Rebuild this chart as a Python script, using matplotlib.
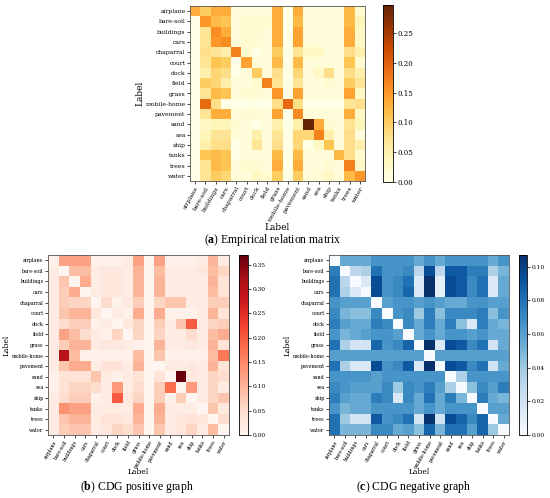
import matplotlib
matplotlib.use("Agg")
import matplotlib.pyplot as plt
import numpy as np

labels = ["airplane", "bare-soil", "buildings", "cars", "chaparral", "court", "dock",
          "field", "grass", "mobile-home", "pavement", "sand", "sea", "ship", "tanks",
          "trees", "water"]

empirical = [
    [0.13, 0.10, 0.13, 0.13, 0.01, 0.01, 0.01, 0.01, 0.13, 0.00, 0.13, 0.01, 0.01, 0.01, 0.01, 0.12, 0.02],
    [0.00, 0.15, 0.12, 0.11, 0.01, 0.02, 0.02, 0.02, 0.13, 0.00, 0.12, 0.01, 0.01, 0.01, 0.01, 0.12, 0.04],
    [0.00, 0.07, 0.16, 0.13, 0.01, 0.02, 0.02, 0.01, 0.13, 0.00, 0.14, 0.01, 0.01, 0.01, 0.01, 0.13, 0.03],
    [0.00, 0.07, 0.15, 0.16, 0.01, 0.02, 0.02, 0.01, 0.13, 0.00, 0.14, 0.01, 0.01, 0.01, 0.01, 0.13, 0.03],
    [0.00, 0.08, 0.07, 0.05, 0.17, 0.02, 0.00, 0.01, 0.10, 0.00, 0.07, 0.03, 0.03, 0.01, 0.01, 0.08, 0.05],
    [0.00, 0.07, 0.11, 0.10, 0.00, 0.14, 0.01, 0.01, 0.12, 0.00, 0.12, 0.01, 0.01, 0.01, 0.01, 0.11, 0.02],
    [0.00, 0.05, 0.09, 0.08, 0.00, 0.01, 0.10, 0.01, 0.08, 0.00, 0.09, 0.01, 0.03, 0.08, 0.01, 0.08, 0.05],
    [0.00, 0.10, 0.09, 0.05, 0.01, 0.01, 0.02, 0.17, 0.07, 0.00, 0.07, 0.01, 0.01, 0.02, 0.01, 0.10, 0.07],
    [0.00, 0.07, 0.12, 0.11, 0.01, 0.02, 0.02, 0.01, 0.15, 0.00, 0.14, 0.01, 0.01, 0.01, 0.01, 0.14, 0.03],
    [0.00, 0.19, 0.08, 0.00, 0.00, 0.00, 0.00, 0.00, 0.08, 0.19, 0.08, 0.00, 0.00, 0.00, 0.00, 0.07, 0.08],
    [0.00, 0.07, 0.13, 0.13, 0.01, 0.02, 0.02, 0.01, 0.14, 0.00, 0.16, 0.01, 0.01, 0.01, 0.01, 0.13, 0.03],
    [0.00, 0.03, 0.04, 0.04, 0.02, 0.01, 0.00, 0.01, 0.05, 0.00, 0.05, 0.297, 0.13, 0.02, 0.01, 0.07, 0.04],
    [0.00, 0.04, 0.07, 0.07, 0.01, 0.01, 0.05, 0.01, 0.07, 0.00, 0.09, 0.09, 0.17, 0.05, 0.01, 0.08, 0.01],
    [0.00, 0.05, 0.08, 0.08, 0.00, 0.01, 0.07, 0.01, 0.08, 0.00, 0.09, 0.00, 0.03, 0.11, 0.01, 0.08, 0.05],
    [0.00, 0.11, 0.12, 0.11, 0.00, 0.01, 0.01, 0.01, 0.12, 0.00, 0.12, 0.01, 0.01, 0.01, 0.12, 0.08, 0.02],
    [0.00, 0.07, 0.12, 0.11, 0.01, 0.02, 0.02, 0.01, 0.13, 0.00, 0.13, 0.01, 0.01, 0.02, 0.01, 0.17, 0.03],
    [0.00, 0.07, 0.10, 0.09, 0.01, 0.01, 0.03, 0.02, 0.10, 0.00, 0.10, 0.01, 0.02, 0.03, 0.01, 0.12, 0.15],
]

positive = [
    [0.01, 0.12, 0.12, 0.12, 0.01, 0.01, 0.01, 0.02, 0.12, 0.00, 0.12, 0.01, 0.01, 0.01, 0.02, 0.10, 0.02],
    [0.02, 0.00, 0.09, 0.09, 0.02, 0.03, 0.03, 0.02, 0.10, 0.00, 0.09, 0.02, 0.02, 0.02, 0.03, 0.09, 0.06],
    [0.02, 0.08, 0.00, 0.11, 0.02, 0.03, 0.03, 0.02, 0.10, 0.00, 0.10, 0.02, 0.02, 0.02, 0.02, 0.10, 0.04],
    [0.02, 0.07, 0.11, 0.00, 0.02, 0.03, 0.03, 0.02, 0.10, 0.00, 0.10, 0.02, 0.02, 0.02, 0.02, 0.09, 0.04],
    [0.02, 0.07, 0.06, 0.06, 0.00, 0.05, 0.01, 0.03, 0.07, 0.00, 0.06, 0.08, 0.08, 0.02, 0.02, 0.07, 0.07],
    [0.02, 0.08, 0.10, 0.10, 0.03, 0.00, 0.02, 0.01, 0.11, 0.00, 0.11, 0.01, 0.01, 0.01, 0.02, 0.10, 0.04],
    [0.02, 0.05, 0.07, 0.07, 0.01, 0.02, 0.00, 0.03, 0.06, 0.00, 0.07, 0.02, 0.08, 0.20, 0.02, 0.06, 0.07],
    [0.02, 0.12, 0.09, 0.05, 0.02, 0.01, 0.06, 0.00, 0.06, 0.00, 0.06, 0.02, 0.02, 0.05, 0.02, 0.09, 0.11],
    [0.02, 0.07, 0.10, 0.10, 0.02, 0.03, 0.03, 0.02, 0.01, 0.00, 0.10, 0.02, 0.02, 0.03, 0.02, 0.10, 0.04],
    [0.02, 0.30, 0.09, 0.01, 0.01, 0.01, 0.01, 0.01, 0.09, 0.00, 0.08, 0.01, 0.01, 0.01, 0.01, 0.09, 0.17],
    [0.02, 0.08, 0.11, 0.11, 0.02, 0.04, 0.04, 0.02, 0.10, 0.00, 0.00, 0.02, 0.02, 0.03, 0.02, 0.10, 0.04],
    [0.01, 0.04, 0.04, 0.04, 0.08, 0.02, 0.01, 0.02, 0.04, 0.00, 0.04, 0.00, 0.37, 0.03, 0.02, 0.06, 0.05],
    [0.01, 0.04, 0.06, 0.06, 0.05, 0.02, 0.13, 0.02, 0.05, 0.00, 0.07, 0.18, 0.00, 0.13, 0.02, 0.06, 0.02],
    [0.02, 0.05, 0.07, 0.07, 0.01, 0.02, 0.20, 0.03, 0.06, 0.00, 0.07, 0.01, 0.07, 0.00, 0.02, 0.06, 0.08],
    [0.02, 0.14, 0.12, 0.12, 0.02, 0.02, 0.02, 0.02, 0.11, 0.00, 0.11, 0.02, 0.02, 0.02, 0.00, 0.08, 0.03],
    [0.02, 0.08, 0.10, 0.10, 0.02, 0.04, 0.04, 0.03, 0.10, 0.00, 0.10, 0.02, 0.03, 0.04, 0.03, 0.00, 0.05],
    [0.02, 0.07, 0.08, 0.08, 0.02, 0.03, 0.06, 0.05, 0.08, 0.00, 0.08, 0.02, 0.03, 0.06, 0.02, 0.09, 0.00],
]

negative = [
    [0.000, 0.055, 0.055, 0.055, 0.065, 0.065, 0.065, 0.065, 0.055, 0.065, 0.055, 0.065, 0.065, 0.065, 0.065, 0.055, 0.065],
    [0.075, 0.000, 0.030, 0.035, 0.080, 0.065, 0.065, 0.070, 0.030, 0.095, 0.030, 0.090, 0.090, 0.075, 0.075, 0.035, 0.050],
    [0.080, 0.030, 0.000, 0.015, 0.095, 0.065, 0.070, 0.080, 0.015, 0.107, 0.010, 0.095, 0.090, 0.070, 0.080, 0.015, 0.055],
    [0.080, 0.035, 0.015, 0.000, 0.095, 0.065, 0.070, 0.085, 0.015, 0.107, 0.010, 0.095, 0.090, 0.070, 0.080, 0.015, 0.055],
    [0.065, 0.060, 0.060, 0.060, 0.000, 0.060, 0.065, 0.065, 0.060, 0.065, 0.060, 0.055, 0.055, 0.065, 0.065, 0.060, 0.060],
    [0.070, 0.050, 0.045, 0.045, 0.070, 0.000, 0.065, 0.070, 0.040, 0.075, 0.045, 0.070, 0.070, 0.070, 0.075, 0.045, 0.065],
    [0.075, 0.060, 0.055, 0.055, 0.075, 0.070, 0.000, 0.070, 0.055, 0.075, 0.055, 0.075, 0.045, 0.015, 0.075, 0.055, 0.050],
    [0.065, 0.050, 0.055, 0.060, 0.065, 0.065, 0.060, 0.000, 0.055, 0.065, 0.055, 0.065, 0.065, 0.060, 0.065, 0.055, 0.055],
    [0.080, 0.035, 0.020, 0.020, 0.085, 0.065, 0.070, 0.085, 0.000, 0.107, 0.015, 0.095, 0.090, 0.070, 0.080, 0.020, 0.055],
    [0.060, 0.060, 0.060, 0.060, 0.060, 0.060, 0.060, 0.060, 0.060, 0.000, 0.060, 0.060, 0.060, 0.060, 0.060, 0.060, 0.060],
    [0.080, 0.035, 0.015, 0.015, 0.095, 0.065, 0.070, 0.090, 0.015, 0.107, 0.000, 0.095, 0.090, 0.070, 0.080, 0.020, 0.055],
    [0.065, 0.065, 0.065, 0.065, 0.060, 0.065, 0.065, 0.065, 0.065, 0.065, 0.065, 0.000, 0.035, 0.065, 0.065, 0.065, 0.065],
    [0.070, 0.065, 0.060, 0.060, 0.060, 0.070, 0.040, 0.070, 0.065, 0.075, 0.060, 0.035, 0.000, 0.045, 0.070, 0.060, 0.075],
    [0.075, 0.060, 0.055, 0.055, 0.075, 0.070, 0.015, 0.070, 0.055, 0.080, 0.055, 0.075, 0.050, 0.000, 0.075, 0.055, 0.050],
    [0.065, 0.050, 0.055, 0.055, 0.065, 0.065, 0.065, 0.065, 0.055, 0.065, 0.055, 0.065, 0.065, 0.065, 0.000, 0.060, 0.060],
    [0.080, 0.040, 0.020, 0.020, 0.090, 0.065, 0.070, 0.080, 0.020, 0.105, 0.020, 0.095, 0.085, 0.070, 0.085, 0.000, 0.055],
    [0.080, 0.050, 0.050, 0.050, 0.070, 0.070, 0.055, 0.060, 0.045, 0.085, 0.050, 0.080, 0.080, 0.060, 0.085, 0.040, 0.000],
]

plt.rcParams["mathtext.fontset"] = "custom"
plt.rcParams["mathtext.rm"] = "Liberation Serif"
plt.rcParams["mathtext.bf"] = "Liberation Serif:bold"

W, H = 550, 498
fig = plt.figure(figsize=(W / 100, H / 100), dpi=100)

def rect(x0, y0, x1, y1):
    return [x0 / W, 1 - y1 / H, (x1 - x0) / W, (y1 - y0) / H]

tick_font = "DejaVu Serif"
cap_font = "Liberation Serif"

def draw(mat, cmap, ax_px, cb_px, ticks, fs, cfs, label_fs, ylab_x, xlab_y, cap_y, cap_letter, cap_text, cap_x):
    data = np.array(mat)
    ax = fig.add_axes(rect(*ax_px))
    im = ax.imshow(data, cmap=cmap, vmin=0, vmax=data.max(), aspect="auto",
                   interpolation="nearest")
    n = len(labels)
    ax.set_xticks(range(n))
    ax.set_yticks(range(n))
    ax.set_xticklabels(labels, rotation=60, ha="right", rotation_mode="anchor",
                       fontsize=fs, family=tick_font)
    ax.set_yticklabels(labels, fontsize=fs, family=tick_font)
    ax.tick_params(length=2, width=0.5, pad=1.2)
    for s in ax.spines.values():
        s.set_linewidth(0.6)
        s.set_color("#555555")
    cax = fig.add_axes(rect(*cb_px))
    cb = fig.colorbar(im, cax=cax, ticks=ticks)
    cb.ax.tick_params(length=2, width=0.5, pad=1.5)
    cb.ax.set_yticklabels([f"{t:.2f}" for t in ticks])
    for t in cb.ax.get_yticklabels():
        t.set_family(tick_font)
        t.set_fontsize(cfs)
    cb.outline.set_linewidth(0.6)
    ycen = 1 - (ax_px[1] + ax_px[3]) / 2 / H
    xcen = (ax_px[0] + ax_px[2]) / 2 / W
    fig.text(ylab_x / W, ycen, "Label", rotation=90, ha="center", va="center",
             fontsize=label_fs, family=tick_font)
    fig.text(xcen, 1 - xlab_y / H, "Label", ha="center", va="center",
             fontsize=label_fs, family=tick_font)
    fig.text(cap_x / W, 1 - cap_y / H, "($\\mathbf{" + cap_letter + "}$) " + cap_text,
             ha="center", va="center", fontsize=8.5, family=cap_font)

# top
draw(empirical, "YlOrBr", (190, 6, 365, 181), (383, 5, 393, 182),
     [0.0, 0.05, 0.10, 0.15, 0.20, 0.25], 4.4, 5.0, 6.5, 140, 227, 240, "a",
     "Empirical relation matrix", 273)
# bottom left
draw(positive, "Reds", (48, 255, 229, 435), (239, 255, 248, 435),
     [0.0, 0.05, 0.10, 0.15, 0.20, 0.25, 0.30, 0.35], 3.5, 4.2, 5.5, 7, 472, 487, "b",
     "CDG positive graph", 137)
# bottom right
draw(negative, "Blues", (329, 255, 509, 435), (519, 255, 527, 435),
     [0.0, 0.02, 0.04, 0.06, 0.08, 0.10], 3.5, 4.2, 5.5, 288, 472, 487, "c",
     "CDG negative graph", 413)

fig.savefig("out.png", dpi=100)
